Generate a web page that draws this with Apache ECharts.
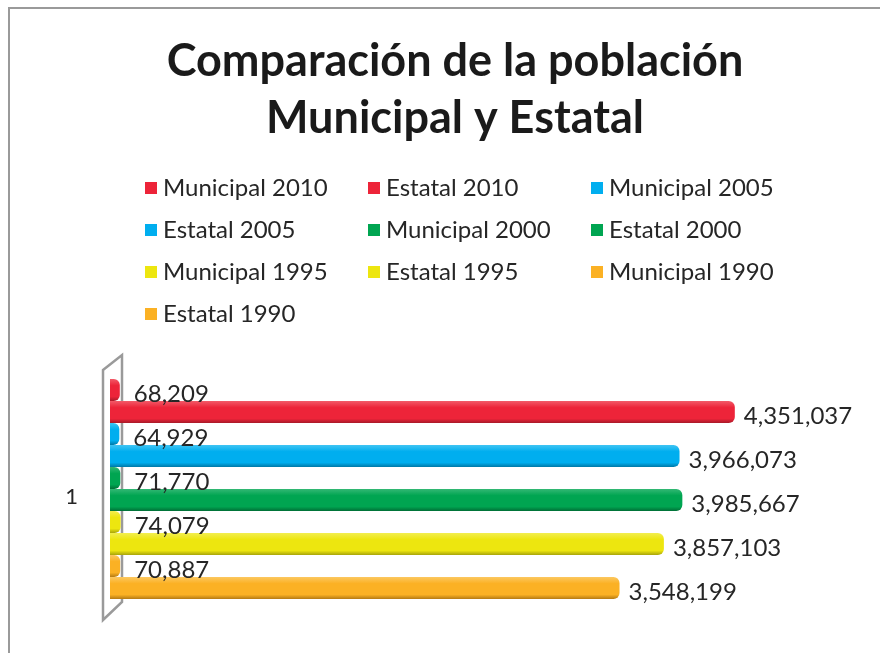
<!DOCTYPE html>
<html>
<head>
<meta charset="utf-8">
<script src="https://cdn.jsdelivr.net/npm/echarts@6/dist/echarts.min.js"></script>
<style>
html,body{margin:0;padding:0;background:#fff;}
#chart{width:880px;height:653px;}
</style>
</head>
<body>
<div id="chart"></div>
<script>
const categories = ['1'];
const seriesNames = ['Municipal 2010','Estatal 2010','Municipal 2005','Estatal 2005','Municipal 2000','Estatal 2000','Municipal 1995','Estatal 1995','Municipal 1990','Estatal 1990'];
const seriesValues = [68209, 4351037, 64929, 3966073, 71770, 3985667, 74079, 3857103, 70887, 3548199];
const seriesColors = ['#ED2439','#ED2439','#00AEEF','#00AEEF','#00A551','#00A551','#EDE60F','#EDE60F','#FBB124','#FBB124'];
const seriesDark = ['#A81A28','#A81A28','#0078A6','#0078A6','#006E36','#006E36','#A8A40A','#A8A40A','#B57A12','#B57A12'];
const seriesLight = ['#F25A68','#F25A68','#40C4F3','#40C4F3','#33B874','#33B874','#F2EE50','#F2EE50','#FCC860','#FCC860'];
const legendColumns = [
  ['Municipal 2010','Estatal 2005','Municipal 1995','Estatal 1990'],
  ['Estatal 2010','Municipal 2000','Estatal 1995'],
  ['Municipal 2005','Estatal 2000','Municipal 1990']
];
const legendLefts = [140, 363, 586];

const font = 'Lato, "Open Sans", sans-serif';
const chart = echarts.init(document.getElementById('chart'));

function colorOf(name){ return seriesColors[seriesNames.indexOf(name)]; }

const series = seriesNames.map((name, i) => {
  const isMunicipal = name.indexOf('Municipal') === 0;
  return {
    name: name,
    type: 'bar',
    barWidth: 22,
    barGap: '0%',
    data: [seriesValues[i]],
    itemStyle: {
      borderRadius: [0, 6, 6, 0],
      color: {
        type: 'linear', x: 0, y: 0, x2: 0, y2: 1,
        colorStops: [
          {offset: 0, color: seriesLight[i]},
          {offset: 0.3, color: seriesColors[i]},
          {offset: 0.8, color: seriesColors[i]},
          {offset: 1, color: seriesDark[i]}
        ]
      }
    },
    label: {
      show: true,
      position: 'right',
      distance: isMunicipal ? 14 : 9,
      offset: [0, 4],
      color: '#262626',
      fontFamily: font,
      fontSize: 24,
      formatter: p => p.value.toLocaleString('en-US')
    }
  };
});

const legends = legendColumns.map((col, k) => ({
  orient: 'vertical',
  left: legendLefts[k],
  top: 169,
  itemWidth: 12,
  itemHeight: 12,
  itemGap: 14,
  icon: 'rect',
  selectedMode: false,
  textStyle: {fontFamily: font, fontSize: 24, lineHeight: 28, color: '#262626', padding: [0,0,0,1]},
  data: col.map(n => ({name: n, itemStyle: {color: colorOf(n)}}))
}));

chart.setOption({
  backgroundColor: '#fff',
  animation: false,
  title: {
    text: 'Comparación de la población\nMunicipal y Estatal',
    left: 450,
    textAlign: 'center',
    top: 28,
    textStyle: {fontFamily: font, fontWeight: 'bold', fontSize: 45, lineHeight: 57, color: '#1a1a1a'}
  },
  legend: legends,
  grid: {left: 110, width: 718, top: 365, bottom: 40},
  xAxis: {type: 'value', min: 0, max: 5000000, show: false},
  yAxis: {
    type: 'category',
    data: categories,
    inverse: true,
    axisLine: {show: false},
    axisTick: {show: false},
    axisLabel: {margin: 32, fontFamily: font, fontSize: 22, lineHeight: 16, verticalAlign: 'top', color: '#262626'}
  },
  graphic: [
    {type: 'rect', shape: {x: 9, y: 8, width: 900, height: 700}, style: {fill: 'none', stroke: '#9a9a9a', lineWidth: 2}, silent: true},
    {type: 'polygon', shape: {points: [[103,370],[122,355],[122,602],[103,620]]}, style: {fill: 'none', stroke: '#9a9a9a', lineWidth: 2.5}, silent: true, z: -1}
  ],
  series: series
});
</script>
</body>
</html>
